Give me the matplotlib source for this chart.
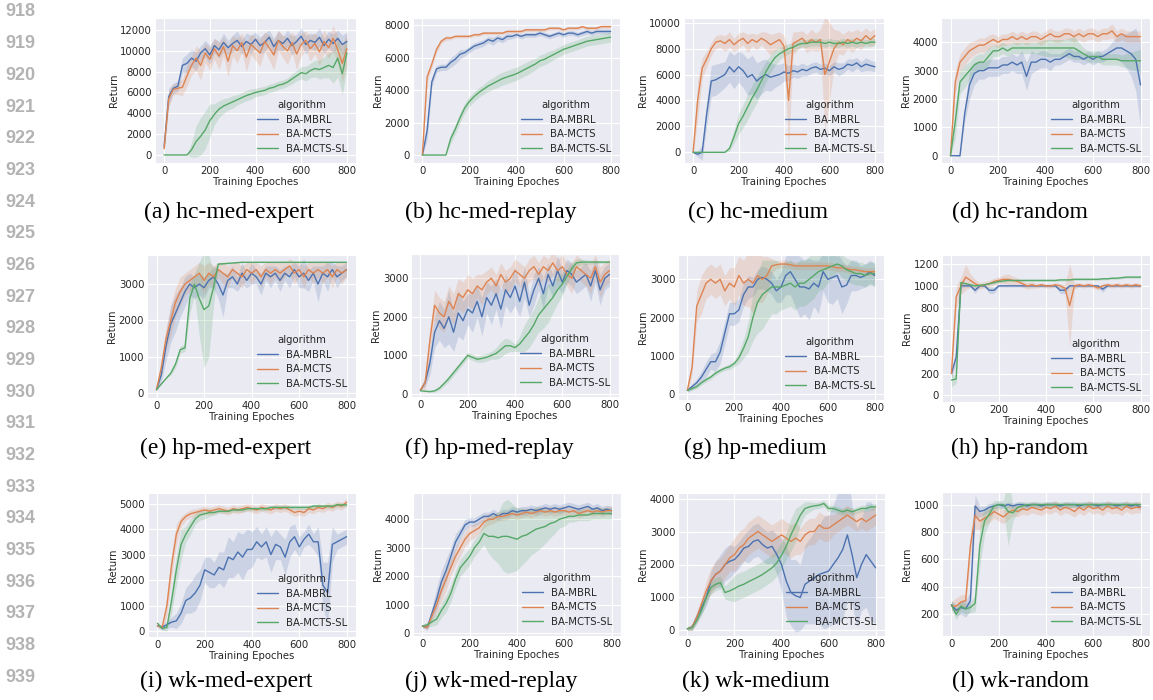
import numpy as np
import seaborn as sns
from matplotlib import pyplot as plt


# values, one every 20 training epochs
epochs     = np.arange(0, 801, 20)
algorithms = ['BA-MBRL', 'BA-MCTS', 'BA-MCTS-SL']

# (a) hc-med-expert
a_mbrl = [800, 5600, 6400, 6600, 8600, 8800, 9300, 9000, 9800, 10200,
          9600, 10500, 10100, 10800, 10300, 10700, 11000, 10400, 10900, 10600,
          11100, 10500, 10800, 11300, 10400, 11000, 10700, 11200, 10500, 10900,
          11400, 10600, 11000, 10800, 11300, 10500, 11100, 10700, 11200, 10600, 10900]
a_mcts = [600, 5400, 6300, 6400, 6500, 7600, 8600, 9300, 8600, 9800,
          9200, 10200, 9500, 10400, 9000, 10500, 10000, 10800, 9400, 10600,
          10200, 9800, 10900, 10300, 9600, 11000, 10400, 10000, 10800, 9700,
          10600, 11000, 10200, 10700, 9900, 10900, 10300, 11200, 10100, 8800, 10200]
a_sl   = [0, 0, 0, 0, 0, 0, 500, 1300, 1800, 2400,
          3300, 3900, 4400, 4700, 4900, 5100, 5300, 5500, 5700, 5850,
          6000, 6100, 6200, 6400, 6500, 6700, 6800, 7000, 7300, 7600,
          7900, 7800, 8100, 8300, 8200, 8400, 8600, 8400, 9300, 7800, 9800]
a_mbrl_sd = [300, 800, 500, 500, 700, 900, 800, 900, 700, 800,
             900, 700, 800, 900, 700, 800, 900, 700, 800, 900,
             700, 800, 900, 700, 800, 900, 700, 800, 900, 700,
             800, 900, 700, 800, 900, 700, 800, 900, 800, 900, 900]
a_mcts_sd = [300, 800, 500, 600, 800, 1000, 900, 1200, 1400, 900,
             1100, 1000, 1300, 900, 1500, 1000, 1200, 900, 1400, 1000,
             1100, 1300, 900, 1200, 1400, 1000, 1100, 1300, 1000, 1500,
             1100, 900, 1200, 1000, 1300, 1100, 1000, 1200, 1300, 1800, 1500]
a_sl_sd   = [0, 0, 0, 0, 0, 0, 700, 1500, 1800, 1800,
             1600, 1000, 800, 700, 600, 600, 500, 500, 500, 500,
             400, 400, 400, 400, 400, 400, 400, 400, 500, 500,
             600, 700, 700, 800, 900, 1000, 1200, 1500, 1800, 2000, 1500]

# (b) hc-med-replay
b_mbrl = [0, 1500, 4500, 5300, 5400, 5400, 5700, 5900, 6200, 6300,
          6500, 6700, 6800, 6900, 7100, 7000, 7200, 7100, 7300, 7300,
          7400, 7300, 7400, 7400, 7400, 7500, 7400, 7300, 7400, 7500,
          7400, 7500, 7500, 7400, 7500, 7600, 7500, 7600, 7600, 7600, 7600]
b_mcts = [0, 4800, 5600, 6500, 7000, 7200, 7200, 7300, 7300, 7300,
          7300, 7400, 7400, 7500, 7500, 7500, 7500, 7500, 7600, 7600,
          7600, 7600, 7700, 7700, 7700, 7700, 7700, 7800, 7800, 7800,
          7700, 7800, 7800, 7800, 7900, 7800, 7800, 7800, 7900, 7900, 7900]
b_sl   = [0, 0, 0, 0, 0, 0, 1000, 1600, 2300, 2900,
          3300, 3600, 3850, 4050, 4250, 4400, 4550, 4700, 4800, 4900,
          5000, 5150, 5300, 5450, 5600, 5800, 5900, 6050, 6200, 6350,
          6500, 6600, 6700, 6800, 6900, 7000, 7050, 7100, 7150, 7200, 7250]
b_mbrl_sd = [0, 600, 300, 200, 200, 200, 300, 300, 300, 200,
             200, 200, 200, 200, 200, 250, 200, 200, 200, 150,
             150, 150, 150, 150, 150, 150, 150, 150, 150, 150,
             150, 150, 150, 150, 150, 150, 150, 150, 150, 150, 150]
b_mcts_sd = [0, 300, 200, 200, 150, 150, 100, 100, 100, 100,
             100, 100, 100, 100, 100, 100, 100, 100, 100, 100,
             100, 100, 100, 100, 100, 100, 100, 100, 100, 100,
             100, 100, 100, 100, 100, 100, 100, 100, 100, 100, 100]
b_sl_sd   = [0, 0, 0, 0, 0, 0, 300, 300, 300, 300,
             300, 300, 300, 300, 350, 350, 400, 400, 400, 400,
             400, 400, 400, 400, 350, 350, 350, 350, 300, 300,
             300, 300, 300, 300, 300, 300, 300, 300, 300, 300, 300]

# (c) hc-medium
c_mbrl = [0, -150, 0, 3000, 5500, 5600, 5800, 6000, 6600, 6200,
          6600, 6300, 5800, 6000, 5500, 5800, 6000, 5800, 5900, 6000,
          6200, 6100, 6300, 6200, 6400, 6300, 6500, 6600, 6400, 6500,
          6300, 6600, 6400, 6500, 6800, 6700, 6900, 6600, 6800, 6700, 6600]
c_mcts = [0, 4000, 6500, 7200, 8000, 8500, 8600, 8400, 8700, 8300,
          8600, 8800, 8400, 8700, 8500, 8800, 8600, 8300, 8500, 8700,
          8200, 4000, 8400, 8600, 8800, 8400, 8700, 8500, 8700, 6000,
          7000, 8000, 8500, 8300, 8700, 8500, 8800, 8600, 9000, 8700, 9000]
c_sl   = [0, 0, 0, 0, 0, 0, 0, 0, 300, 1200,
          2200, 2800, 3500, 4200, 4800, 5500, 6200, 6800, 7300, 7600,
          7800, 8000, 8100, 8300, 8400, 8400, 8500, 8500, 8500, 8400,
          8500, 8400, 8400, 8500, 8400, 8500, 8400, 8500, 8400, 8500, 8500]
c_mbrl_sd = [0, 200, 600, 900, 1200, 1200, 1100, 1000, 1200, 1300,
             1200, 1300, 1400, 1500, 1400, 1300, 1200, 1100, 900, 800,
             700, 600, 500, 500, 500, 400, 400, 400, 400, 400,
             400, 400, 500, 400, 400, 500, 400, 400, 500, 400, 400]
c_mcts_sd = [200, 1500, 800, 600, 500, 500, 500, 600, 600, 500,
             600, 500, 700, 500, 600, 500, 700, 800, 700, 600,
             800, 3800, 900, 700, 600, 700, 800, 700, 800, 4500,
             3000, 1500, 900, 800, 700, 800, 700, 700, 600, 600, 600]
c_sl_sd   = [0, 0, 0, 0, 0, 0, 0, 0, 200, 500,
             800, 900, 1000, 1000, 1000, 900, 800, 700, 600, 500,
             400, 400, 300, 300, 300, 300, 300, 300, 300, 300,
             300, 300, 300, 300, 300, 300, 300, 300, 300, 300, 300]

# (d) hc-random
d_mbrl = [0, 0, 0, 1500, 2500, 2900, 3000, 3000, 3100, 3100,
          3100, 3200, 3200, 3300, 3200, 3300, 2800, 3300, 3300, 3400,
          3400, 3300, 3400, 3400, 3500, 3600, 3500, 3500, 3400, 3500,
          3400, 3500, 3500, 3600, 3700, 3800, 3800, 3700, 3600, 3400, 2500]
d_mcts = [0, 2600, 3300, 3500, 3700, 3800, 3900, 3900, 4000, 4100,
          4000, 4100, 4100, 4200, 4100, 4200, 4100, 4200, 4200, 4100,
          4200, 4300, 4200, 4200, 4300, 4300, 4200, 4300, 4200, 4300,
          4300, 4200, 4300, 4300, 4400, 4200, 4300, 4200, 4200, 4200, 4200]
d_sl   = [0, 1200, 2600, 2800, 3000, 3200, 3300, 3300, 3500, 3700,
          3700, 3800, 3700, 3800, 3800, 3800, 3800, 3800, 3800, 3800,
          3800, 3800, 3800, 3800, 3800, 3800, 3800, 3700, 3600, 3500,
          3500, 3500, 3400, 3400, 3400, 3400, 3350, 3350, 3350, 3350, 3350]
d_mbrl_sd = [0, 0, 50, 300, 500, 400, 300, 300, 300, 300,
             300, 300, 300, 300, 300, 400, 500, 400, 300, 300,
             300, 300, 200, 200, 200, 200, 200, 200, 200, 200,
             200, 200, 200, 200, 300, 400, 500, 600, 800, 1100, 1500]
d_mcts_sd = [0, 400, 300, 300, 300, 250, 250, 250, 250, 200,
             200, 200, 200, 200, 200, 200, 200, 200, 200, 200,
             200, 200, 200, 200, 200, 200, 200, 200, 200, 200,
             200, 200, 200, 200, 250, 200, 200, 200, 200, 200, 200]
d_sl_sd   = [0, 600, 400, 400, 300, 300, 300, 300, 300, 200,
             200, 200, 200, 200, 200, 200, 200, 200, 200, 250,
             300, 300, 300, 300, 300, 350, 400, 300, 200, 200,
             200, 200, 200, 200, 200, 200, 200, 250, 300, 350, 400]

# (e) hp-med-expert
e_mbrl = [100, 500, 1300, 1900, 2200, 2500, 2800, 3000, 2900, 3000,
          2900, 3100, 3200, 3000, 2700, 3100, 3200, 3000, 3300, 3100,
          3300, 3200, 3000, 3300, 3200, 3300, 3100, 3300, 3200, 3400,
          3200, 3300, 3100, 3300, 3000, 3300, 3200, 3400, 3200, 3300, 3400]
e_mcts = [100, 700, 1500, 2000, 2500, 2800, 3000, 3100, 3200, 3300,
          3100, 3300, 3200, 3400, 3300, 3200, 3400, 3300, 3200, 3400,
          3300, 3400, 3200, 3400, 3300, 3400, 3300, 3400, 3500, 3300,
          3400, 3200, 3400, 3300, 3400, 3300, 3400, 3200, 3400, 3300, 3400]
e_sl   = [100, 250, 400, 550, 800, 1200, 1250, 2600, 3000, 2600,
          2300, 2400, 2900, 3550, 3560, 3570, 3580, 3590, 3600, 3600,
          3600, 3600, 3600, 3600, 3600, 3600, 3600, 3600, 3600, 3600,
          3600, 3600, 3600, 3600, 3600, 3600, 3600, 3600, 3600, 3600, 3600]
e_mbrl_sd = [50, 200, 400, 500, 500, 400, 400, 300, 300, 300,
             300, 200, 300, 400, 600, 200, 300, 200, 300, 200,
             300, 200, 300, 200, 300, 200, 300, 200, 300, 200,
             300, 400, 300, 200, 500, 200, 400, 200, 300, 200, 200]
e_mcts_sd = [50, 200, 300, 400, 400, 400, 300, 300, 300, 300,
             400, 300, 300, 200, 300, 300, 200, 300, 300, 200,
             300, 200, 300, 200, 300, 200, 300, 200, 200, 300,
             200, 300, 200, 300, 200, 300, 200, 300, 200, 300, 200]
e_sl_sd   = [0, 0, 0, 50, 100, 100, 100, 400, 300, 1000,
             1600, 1400, 500, 30, 20, 20, 10, 10, 10, 10,
             10, 10, 10, 10, 10, 10, 10, 10, 10, 10,
             10, 10, 10, 10, 10, 10, 10, 10, 10, 10, 10]

# (f) hp-med-replay
f_mbrl = [100, 300, 800, 1600, 1900, 1700, 2000, 1600, 2100, 1900,
          2200, 2100, 2400, 2000, 2500, 2300, 2600, 2200, 2700, 2500,
          2800, 2400, 2900, 2300, 2700, 3000, 2600, 3100, 2800, 3200,
          2900, 3200, 3100, 2900, 3000, 3100, 2800, 3200, 2700, 3000, 3100]
f_mcts = [100, 300, 1400, 2300, 2100, 2000, 2400, 2200, 2600, 2500,
          2700, 2600, 2800, 2700, 2900, 3000, 2800, 3100, 2900, 3000,
          3200, 3100, 3000, 3200, 3300, 3100, 3300, 3200, 3400, 3200,
          3300, 3100, 3000, 3300, 3200, 3100, 3000, 3300, 2900, 3100, 3200]
f_sl   = [80, 70, 60, 80, 150, 270, 400, 550, 700, 850,
          1000, 950, 900, 920, 950, 1000, 1050, 1150, 1250, 1250,
          1200, 1300, 1450, 1600, 1800, 2050, 2200, 2350, 2500, 2700,
          2850, 3050, 3250, 3400, 3420, 3420, 3420, 3420, 3420, 3420, 3420]
f_mbrl_sd = [0, 100, 300, 400, 500, 500, 700, 500, 600, 500,
             400, 500, 400, 500, 400, 500, 400, 500, 400, 400,
             500, 400, 400, 300, 400, 300, 400, 300, 300, 400,
             300, 300, 300, 300, 300, 300, 400, 300, 400, 300, 300]
f_mcts_sd = [0, 200, 300, 400, 400, 400, 400, 400, 400, 400,
             400, 400, 300, 400, 300, 300, 300, 300, 300, 300,
             300, 300, 300, 300, 300, 300, 300, 300, 300, 300,
             300, 300, 400, 300, 300, 300, 400, 300, 400, 300, 300]
f_sl_sd   = [0, 10, 20, 30, 50, 60, 80, 80, 80, 80,
             80, 80, 80, 100, 100, 100, 150, 200, 200, 150,
             100, 200, 350, 400, 400, 450, 500, 500, 400, 350,
             300, 200, 150, 100, 80, 60, 50, 40, 30, 30, 30]

# (g) hp-medium
g_mbrl = [100, 200, 300, 450, 650, 850, 850, 1100, 1600, 2100,
          2100, 2200, 2600, 2800, 2800, 3000, 3050, 3000, 2900, 2700,
          2800, 3100, 3200, 3000, 2800, 2800, 2750, 2900, 2800, 3200,
          3000, 3050, 3100, 2800, 2850, 3100, 3100, 3050, 3100, 3200, 3100]
g_mcts = [100, 700, 2300, 2600, 2900, 3000, 2900, 3000, 2700, 2900,
          2800, 3100, 2900, 3000, 2900, 3100, 3000, 3100, 3350, 3380,
          3400, 3400, 3380, 3350, 3350, 3350, 3350, 3350, 3350, 3350,
          3350, 3330, 3300, 3300, 3280, 3250, 3250, 3220, 3200, 3200, 3200]
g_sl   = [100, 150, 200, 300, 380, 450, 550, 620, 680, 720,
          800, 950, 1200, 1500, 2000, 2400, 2600, 2700, 2800, 2800,
          2800, 2850, 2900, 2800, 2900, 2900, 3000, 3100, 3200, 3250,
          3300, 3350, 3400, 3350, 3250, 3200, 3150, 3150, 3100, 3150, 3150]
g_mbrl_sd = [50, 80, 100, 150, 200, 200, 250, 300, 300, 300,
             300, 300, 300, 300, 250, 250, 300, 300, 300, 300,
             400, 500, 600, 700, 800, 700, 800, 600, 700, 500,
             600, 700, 600, 700, 500, 400, 400, 300, 300, 300, 300]
g_mcts_sd = [50, 200, 400, 500, 400, 400, 400, 400, 400, 400,
             500, 500, 600, 700, 800, 700, 600, 500, 200, 100,
             100, 100, 100, 100, 100, 100, 100, 100, 100, 100,
             100, 100, 100, 100, 100, 100, 100, 100, 100, 100, 100]
g_sl_sd   = [30, 50, 50, 60, 60, 60, 60, 60, 60, 70,
             80, 150, 250, 400, 600, 800, 900, 800, 700, 700,
             600, 600, 600, 600, 600, 600, 600, 600, 500, 500,
             400, 300, 200, 300, 300, 300, 300, 300, 300, 300, 300]

# (h) hp-random
h_mbrl = [200, 350, 1000, 1000, 1000, 960, 1000, 1000, 960, 960,
          1000, 1000, 1000, 1000, 1000, 1000, 1000, 1000, 1000, 1000,
          1000, 1000, 1000, 960, 960, 1000, 1000, 1000, 1000, 1000,
          1000, 1000, 970, 1000, 1000, 1000, 1000, 1000, 1000, 1000, 1000]
h_mcts = [200, 900, 1000, 1080, 1050, 1020, 1000, 1010, 1020, 1040,
          1050, 1060, 1060, 1050, 1040, 1020, 1000, 1010, 1000, 1010,
          1000, 1000, 1010, 1000, 980, 820, 1000, 1010, 1000, 1010,
          1000, 980, 1000, 1010, 1000, 1010, 1000, 1010, 1000, 1010, 1000]
h_sl   = [140, 150, 1030, 1020, 1010, 1000, 1005, 1010, 1020, 1030,
          1040, 1045, 1050, 1050, 1050, 1050, 1050, 1050, 1050, 1050,
          1050, 1050, 1050, 1055, 1055, 1055, 1060, 1060, 1060, 1060,
          1060, 1060, 1065, 1065, 1070, 1070, 1075, 1080, 1080, 1080, 1080]
h_mbrl_sd = [40, 60, 20, 10, 10, 30, 10, 10, 30, 30,
             10, 10, 10, 10, 10, 10, 10, 10, 10, 10,
             10, 10, 10, 30, 30, 10, 10, 10, 10, 10,
             10, 10, 30, 10, 10, 10, 10, 10, 10, 10, 10]
h_mcts_sd = [40, 100, 80, 120, 60, 40, 30, 30, 30, 30,
             30, 40, 50, 40, 30, 30, 30, 30, 20, 20,
             20, 20, 20, 20, 30, 380, 30, 20, 20, 20,
             20, 20, 20, 20, 20, 20, 20, 20, 20, 20, 20]
h_sl_sd   = [60, 40, 20, 10, 10, 10, 10, 10, 10, 10,
             10, 10, 10, 10, 10, 10, 10, 10, 10, 10,
             10, 10, 10, 10, 10, 10, 10, 10, 10, 10,
             10, 10, 10, 10, 10, 10, 10, 10, 10, 10, 10]

# (i) wk-med-expert
i_mbrl = [200, 150, 250, 350, 400, 700, 1200, 1300, 1500, 1800,
          2400, 2300, 2200, 2500, 2400, 2900, 2800, 3100, 2900, 3200,
          3200, 3500, 3300, 3500, 3000, 3400, 3300, 2900, 3500, 3700,
          3300, 3600, 3800, 3500, 3500, 1800, 1500, 3400, 3500, 3600, 3700]
i_mcts = [200, 150, 1000, 2600, 3800, 4300, 4500, 4600, 4650, 4700,
          4750, 4700, 4750, 4800, 4750, 4700, 4800, 4750, 4800, 4850,
          4800, 4750, 4850, 4800, 4750, 4850, 4800, 4850, 4750, 4650,
          4700, 4650, 4800, 4750, 4850, 4800, 4900, 4850, 4950, 4900, 5050]
i_sl   = [300, 100, 150, 1200, 2400, 3400, 3800, 4100, 4400, 4550,
          4600, 4650, 4650, 4700, 4700, 4700, 4750, 4750, 4750, 4800,
          4800, 4800, 4800, 4800, 4850, 4850, 4850, 4850, 4850, 4850,
          4850, 4850, 4850, 4900, 4900, 4900, 4900, 4900, 4950, 4950, 4950]
i_mbrl_sd = [50, 100, 150, 200, 300, 400, 500, 600, 700, 600,
             500, 600, 500, 600, 700, 800, 700, 800, 900, 800,
             700, 600, 500, 600, 700, 600, 500, 700, 600, 500,
             400, 300, 400, 300, 600, 900, 1200, 700, 300, 300, 300]
i_mcts_sd = [50, 100, 400, 500, 400, 200, 150, 150, 150, 150,
             150, 150, 150, 150, 150, 150, 150, 150, 150, 150,
             150, 150, 150, 150, 150, 150, 150, 150, 150, 150,
             150, 150, 150, 150, 150, 150, 150, 150, 150, 150, 150]
i_sl_sd   = [50, 80, 150, 500, 600, 600, 300, 300, 200, 200,
             200, 150, 100, 80, 80, 80, 80, 80, 80, 80,
             80, 80, 80, 80, 80, 80, 80, 80, 80, 80,
             80, 80, 80, 80, 80, 80, 80, 80, 80, 80, 80]

# (j) wk-med-replay
j_mbrl = [250, 200, 700, 1200, 1800, 2200, 2700, 3200, 3500, 3800,
          3900, 3900, 4000, 4100, 4100, 4200, 4100, 4200, 4200, 4300,
          4250, 4300, 4300, 4350, 4300, 4350, 4400, 4350, 4400, 4350,
          4400, 4450, 4400, 4350, 4400, 4450, 4350, 4400, 4300, 4350, 4300]
j_mcts = [250, 200, 600, 1000, 1500, 1900, 2300, 2700, 3000, 3300,
          3500, 3600, 3700, 3900, 4000, 4000, 4100, 4100, 4150, 4200,
          4150, 4200, 4250, 4200, 4250, 4300, 4250, 4300, 4250, 4300,
          4300, 4250, 4300, 4200, 4250, 4300, 4250, 4300, 4250, 4300, 4300]
j_sl   = [250, 300, 400, 500, 800, 1050, 1400, 1900, 2300, 2500,
          2700, 3000, 3200, 3500, 3400, 3400, 3350, 3400, 3400, 3350,
          3300, 3400, 3450, 3550, 3650, 3700, 3750, 3850, 3900, 4000,
          4050, 4100, 4100, 4150, 4150, 4150, 4200, 4200, 4200, 4200, 4200]
j_mbrl_sd = [50, 80, 200, 400, 400, 400, 300, 300, 200, 200,
             150, 150, 150, 150, 150, 150, 150, 150, 150, 150,
             150, 150, 150, 150, 150, 150, 150, 150, 150, 150,
             150, 150, 150, 150, 150, 150, 150, 150, 150, 150, 150]
j_mcts_sd = [50, 80, 150, 300, 400, 400, 300, 300, 300, 250,
             250, 250, 200, 200, 200, 150, 150, 150, 150, 150,
             150, 150, 150, 150, 150, 150, 150, 150, 150, 150,
             150, 150, 150, 150, 150, 150, 150, 150, 150, 150, 150]
j_sl_sd   = [50, 100, 150, 200, 250, 300, 300, 300, 300, 300,
             300, 300, 300, 400, 600, 800, 900, 1200, 1300, 1200,
             1100, 1000, 900, 800, 800, 700, 600, 500, 400, 300,
             300, 200, 200, 200, 200, 200, 200, 200, 200, 200, 200]

# (k) wk-medium
k_mbrl = [50, 100, 400, 700, 1000, 1500, 1700, 1800, 2000, 2100,
          2150, 2300, 2500, 2550, 2700, 2750, 2600, 2500, 2550, 2300,
          2000, 1500, 1150, 1050, 1000, 1400, 1500, 1600, 1700, 1750,
          1800, 2000, 2200, 2450, 2900, 2300, 1600, 2000, 2300, 2100, 1900]
k_mcts = [50, 100, 400, 800, 1200, 1500, 1700, 1800, 2000, 2200,
          2300, 2500, 2600, 2800, 2900, 3000, 2900, 2800, 2700, 2800,
          2900, 2800, 2700, 2800, 2700, 2900, 3000, 3000, 3200, 3100,
          3100, 3200, 3300, 3400, 3500, 3400, 3300, 3400, 3300, 3400, 3500]
k_sl   = [50, 80, 300, 600, 1000, 1300, 1400, 1450, 1150, 1200,
          1270, 1350, 1400, 1480, 1550, 1620, 1700, 1800, 1900, 2050,
          2280, 2550, 2900, 3200, 3500, 3700, 3750, 3780, 3800, 3850,
          3700, 3700, 3650, 3600, 3650, 3600, 3650, 3700, 3700, 3750, 3750]
k_mbrl_sd = [50, 100, 150, 200, 250, 300, 400, 500, 500, 500,
             400, 400, 400, 500, 500, 500, 500, 500, 500, 600,
             800, 1100, 1000, 1100, 1000, 1200, 1300, 1400, 1500, 1700,
             1700, 1800, 2000, 2100, 2000, 1500, 1500, 1400, 1600, 1800, 1700]
k_mcts_sd = [50, 100, 150, 200, 300, 400, 400, 400, 400, 400,
             500, 500, 500, 500, 500, 500, 500, 500, 500, 500,
             500, 500, 500, 500, 400, 400, 400, 400, 400, 400,
             400, 300, 300, 300, 300, 300, 300, 300, 300, 300, 300]
k_sl_sd   = [50, 80, 100, 150, 200, 200, 200, 200, 200, 300,
             400, 400, 400, 400, 400, 400, 400, 400, 400, 400,
             400, 400, 500, 500, 300, 200, 150, 100, 100, 100,
             100, 100, 100, 100, 100, 100, 100, 100, 100, 100, 100]

# (l) wk-random
l_mbrl = [270, 230, 250, 240, 300, 990, 950, 960, 980, 990,
          1000, 990, 1000, 990, 1000, 1000, 990, 1000, 1000, 990,
          1000, 1000, 1000, 990, 1000, 1000, 1000, 990, 1000, 1000,
          1000, 990, 1000, 1000, 1000, 990, 1000, 1000, 990, 1000, 980]
l_mcts = [260, 260, 290, 300, 700, 920, 880, 900, 920, 950,
          930, 910, 940, 960, 950, 970, 960, 980, 970, 960,
          980, 970, 990, 960, 980, 970, 950, 980, 960, 990,
          970, 980, 960, 990, 970, 980, 960, 990, 970, 980, 980]
l_sl   = [270, 200, 260, 240, 250, 280, 700, 880, 930, 990,
          1000, 1000, 950, 940, 980, 990, 1000, 1000, 1000, 1000,
          1000, 1000, 1000, 1000, 1000, 1000, 1000, 1000, 1000, 1000,
          1000, 1000, 1000, 1000, 1000, 1000, 1000, 1000, 1000, 1000, 1000]
l_mbrl_sd = [30, 40, 50, 60, 70, 80, 40, 30, 30, 20,
             20, 20, 20, 20, 20, 20, 20, 20, 20, 20,
             20, 20, 20, 20, 20, 20, 20, 20, 20, 20,
             20, 20, 20, 20, 20, 20, 20, 20, 20, 20, 20]
l_mcts_sd = [30, 60, 50, 50, 80, 100, 60, 50, 50, 50,
             50, 50, 50, 40, 40, 40, 40, 40, 40, 40,
             40, 40, 40, 40, 40, 40, 40, 40, 40, 40,
             40, 40, 40, 40, 40, 40, 40, 40, 40, 40, 40]
l_sl_sd   = [30, 40, 40, 40, 40, 60, 150, 100, 60, 40,
             30, 30, 250, 60, 40, 30, 20, 20, 20, 20,
             20, 20, 20, 20, 20, 20, 20, 20, 20, 20,
             20, 20, 20, 20, 20, 20, 20, 20, 20, 20, 20]


# caption, means, bands, y-range, y-ticks, axes box in pixels (left, right, top, bottom)
panels = [
    ('(a) hc-med-expert', [a_mbrl, a_mcts, a_sl], [a_mbrl_sd, a_mcts_sd, a_sl_sd],
     (-770, 13150), range(0, 12001, 2000), (155, 356, 18, 163)),
    ('(b) hc-med-replay', [b_mbrl, b_mcts, b_sl], [b_mbrl_sd, b_mcts_sd, b_sl_sd],
     (-490, 8430), range(0, 8001, 2000), (413, 620, 18, 163)),
    ('(c) hc-medium', [c_mbrl, c_mcts, c_sl], [c_mbrl_sd, c_mcts_sd, c_sl_sd],
     (-825, 10365), range(0, 10001, 2000), (684, 884, 18, 163)),
    ('(d) hc-random', [d_mbrl, d_mcts, d_sl], [d_mbrl_sd, d_mcts_sd, d_sl_sd],
     (-257, 4857), range(0, 4001, 1000), (941, 1150, 18, 163)),
    ('(e) hp-med-expert', [e_mbrl, e_mcts, e_sl], [e_mbrl_sd, e_mcts_sd, e_sl_sd],
     (-130, 3800), range(0, 3001, 1000), (147, 356, 255, 398)),
    ('(f) hp-med-replay', [f_mbrl, f_mcts, f_sl], [f_mbrl_sd, f_mcts_sd, f_sl_sd],
     (-80, 3630), range(0, 3001, 1000), (411, 619, 254, 397)),
    ('(g) hp-medium', [g_mbrl, g_mcts, g_sl], [g_mbrl_sd, g_mcts_sd, g_sl_sd],
     (-150, 3635), range(0, 3001, 1000), (678, 884, 255, 400)),
    ('(h) hp-random', [h_mbrl, h_mcts, h_sl], [h_mbrl_sd, h_mcts_sd, h_sl_sd],
     (-60, 1282), range(0, 1201, 200), (942, 1150, 255, 402)),
    ('(i) wk-med-expert', [i_mbrl, i_mcts, i_sl], [i_mbrl_sd, i_mcts_sd, i_sl_sd],
     (-235, 5415), range(0, 5001, 1000), (148, 356, 493, 637)),
    ('(j) wk-med-replay', [j_mbrl, j_mcts, j_sl], [j_mbrl_sd, j_mcts_sd, j_sl_sd],
     (-95, 4920), range(0, 4001, 1000), (413, 621, 493, 636)),
    ('(k) wk-medium', [k_mbrl, k_mcts, k_sl], [k_mbrl_sd, k_mcts_sd, k_sl_sd],
     (-170, 4170), range(0, 4001, 1000), (678, 885, 493, 636)),
    ('(l) wk-random', [l_mbrl, l_mcts, l_sl], [l_mbrl_sd, l_mcts_sd, l_sl_sd],
     (42, 1092), range(200, 1001, 200), (942, 1150, 492, 636)),
]
caption_y  = [212, 448, 681]
line_nums  = range(918, 940)


sns.set_style('darkgrid')
plt.rcParams['font.family'] = ['DejaVu Sans']
colors = sns.color_palette('deep')[:3]
W, H = 1153, 700
fs = 7.3

fig = plt.figure(figsize=(W / 100, H / 100), dpi=100)

for k, (cap, means, sds, ylim, yticks, (x0, x1, y0, y1)) in enumerate(panels):
    ax = fig.add_axes([x0 / W, 1 - y1 / H, (x1 - x0) / W, (y1 - y0) / H])
    for name, m, s, c in zip(algorithms, means, sds, colors):
        m = np.asarray(m, float)
        s = np.asarray(s, float)
        if len(m) != len(epochs) or len(s) != len(epochs):
            raise ValueError(f'{cap} {name}: {len(m)} / {len(s)}')
        ax.fill_between(epochs, m - s, m + s, color=c, alpha=0.2, lw=0)
        ax.plot(epochs, m, color=c, lw=1.0, label=name)
    ax.set_xlim(-40, 840)
    ax.set_ylim(*ylim)
    ax.set_xticks(range(0, 801, 200))
    ax.set_yticks(list(yticks))
    ax.tick_params(length=0, pad=2, labelsize=fs, colors='#262626')
    ax.set_xlabel('Training Epoches', fontsize=fs, labelpad=1, color='#262626')
    ax.set_ylabel('Return', fontsize=fs, labelpad=1, color='#262626')
    ax.legend(title='algorithm', loc='lower right', frameon=False,
              fontsize=fs, title_fontsize=fs, labelspacing=0.45)
    xc = (x0 + x1) / 2 - 26
    fig.text(xc / W, 1 - caption_y[k // 4] / H, cap, ha='center', va='center',
             fontsize=17, family='Liberation Serif', color='black')

# line numbers of the page
for n, num in enumerate(line_nums):
    fig.text(5 / W, 1 - (12 + 31.67 * n) / H, str(num), ha='left', va='center',
             fontsize=13, fontweight='bold', family='Liberation Sans', color='#b3b3b3')

fig.savefig('out.png', dpi=100)
